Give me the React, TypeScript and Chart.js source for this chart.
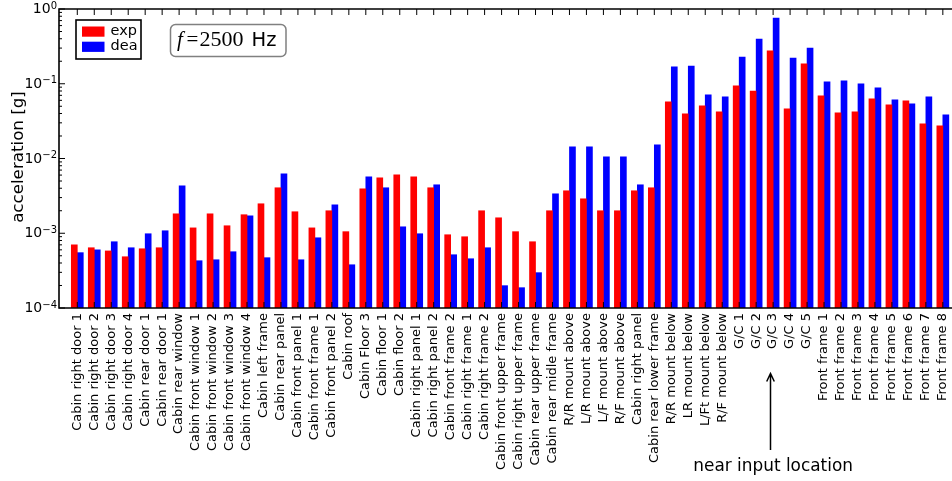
import { useEffect, useRef } from 'react';
import { Chart, registerables } from 'chart.js';

Chart.register(...registerables);

// Measurement locations on the cabin and frame
const locations = [
  'Cabin right door 1', 'Cabin right door 2', 'Cabin right door 3', 'Cabin right door 4',
  'Cabin rear door 1', 'Cabin rear door 1', 'Cabin rear window', 'Cabin front window 1',
  'Cabin front window 2', 'Cabin front window 3', 'Cabin front window 4', 'Cabin left frame',
  'Cabin rear panel', 'Cabin front panel 1', 'Cabin front frame 1', 'Cabin front panel 2',
  'Cabin roof', 'Cabin Floor 3', 'Cabin floor 1', 'Cabin floor 2',
  'Cabin right panel 1', 'Cabin right panel 2', 'Cabin front frame 2', 'Cabin right frame 1',
  'Cabin right frame 2', 'Cabin front upper frame', 'Cabin right upper frame', 'Cabin rear upper frame',
  'Cabin rear midle frame', 'R/R mount above', 'L/R mount above', 'L/F mount above',
  'R/F mount above', 'Cabin right panel', 'Cabin rear lower frame', 'R/R mount below',
  'LR mount below', 'L/Ft mount below', 'R/F mount below', 'G/C 1',
  'G/C 2', 'G/C 3', 'G/C 4', 'G/C 5',
  'Front frame 1', 'Front frame 2', 'Front frame 3', 'Front frame 4',
  'Front frame 5', 'Front frame 6', 'Front frame 7', 'Front frame 8',
];

// Measured acceleration [g]
const expValues = [
  7.0e-4, 6.4e-4, 5.8e-4, 4.85e-4,
  6.2e-4, 6.4e-4, 1.82e-3, 1.18e-3,
  1.82e-3, 1.26e-3, 1.77e-3, 2.48e-3,
  4.06e-3, 1.94e-3, 1.18e-3, 2.0e-3,
  1.05e-3, 3.93e-3, 5.52e-3, 6.05e-3,
  5.69e-3, 4.06e-3, 9.55e-4, 8.98e-4,
  2.0e-3, 1.61e-3, 1.05e-3, 7.7e-4,
  2.0e-3, 3.7e-3, 2.89e-3, 2.0e-3,
  2.0e-3, 3.7e-3, 4.06e-3, 5.72e-2,
  3.95e-2, 5.06e-2, 4.2e-2, 9.35e-2,
  8.0e-2, 0.275, 4.61e-2, 0.184,
  6.88e-2, 4.08e-2, 4.2e-2, 6.27e-2,
  5.21e-2, 5.9e-2, 2.9e-2, 2.73e-2,
];

// Simulated acceleration [g]
const deaValues = [
  5.5e-4, 6.0e-4, 7.7e-4, 6.4e-4,
  9.85e-4, 1.08e-3, 4.31e-3, 4.29e-4,
  4.42e-4, 5.66e-4, 1.71e-3, 4.71e-4,
  6.24e-3, 4.42e-4, 8.7e-4, 2.4e-3,
  3.79e-4, 5.69e-3, 4.06e-3, 1.22e-3,
  9.85e-4, 4.45e-3, 5.16e-4, 4.56e-4,
  6.4e-4, 1.99e-4, 1.87e-4, 2.97e-4,
  3.37e-3, 1.43e-2, 1.43e-2, 1.05e-2,
  1.05e-2, 4.45e-3, 1.52e-2, 0.168,
  0.173, 7.1e-2, 6.67e-2, 0.228,
  0.397, 0.758, 0.221, 0.301,
  0.106, 0.109, 9.95e-2, 8.8e-2,
  6.08e-2, 5.37e-2, 6.67e-2, 3.83e-2,
];

// Decade exponents shown on the log axis
const yExponents = [0, -1, -2, -3, -4];

const seriesNames = ['exp', 'dea'];
const seriesColors = ['#ff0000', '#0000ff'];
const frequencyHz = '2500';
const yTitle = 'acceleration [g]';
const arrowNote = 'near input location';
const arrowTarget = 'G/C 3';

const SANS = '"DejaVu Sans", sans-serif';
const SERIF = '"Liberation Serif", "DejaVu Serif", serif';

const decorPlugin = {
  id: 'decor',
  afterDatasetsDraw(chart: any) {
    const { ctx, chartArea: a, scales } = chart;
    const xs = scales.x;
    const ys = scales.y;
    ctx.save();

    // inward tick marks
    ctx.strokeStyle = '#000';
    ctx.lineWidth = 1;
    ctx.beginPath();
    locations.forEach((_, i) => {
      const px = xs.getPixelForValue(i);
      ctx.moveTo(px, a.top);
      ctx.lineTo(px, a.top + 6);
      ctx.moveTo(px, a.bottom);
      ctx.lineTo(px, a.bottom - 6);
    });
    yExponents.forEach((e) => {
      const py = ys.getPixelForValue(Math.pow(10, e));
      ctx.moveTo(a.left, py);
      ctx.lineTo(a.left + 6, py);
      if (e > yExponents[yExponents.length - 1]) {
        for (let m = 2; m <= 9; m++) {
          const pm = ys.getPixelForValue(m * Math.pow(10, e - 1));
          ctx.moveTo(a.left, pm);
          ctx.lineTo(a.left + 3, pm);
        }
      }
    });
    ctx.stroke();

    // axes frame
    ctx.lineWidth = 1.6;
    ctx.beginPath();
    ctx.moveTo(a.right + 2, a.top);
    ctx.lineTo(a.left, a.top);
    ctx.lineTo(a.left, a.bottom);
    ctx.lineTo(a.right + 2, a.bottom);
    ctx.stroke();

    // y tick labels: 10 with superscript exponent
    ctx.fillStyle = '#000';
    yExponents.forEach((e) => {
      const py = ys.getPixelForValue(Math.pow(10, e));
      const expText = e < 0 ? '\u2212' + String(-e) : String(e);
      ctx.font = '10px ' + SANS;
      ctx.textAlign = 'right';
      ctx.textBaseline = 'alphabetic';
      const right = a.left - 2;
      ctx.fillText(expText, right, py - 0.5);
      const ew = ctx.measureText(expText).width;
      ctx.font = '14px ' + SANS;
      ctx.textBaseline = 'middle';
      ctx.fillText('10', right - ew, py + 0.5);
    });

    // y axis title
    ctx.save();
    ctx.translate(19, 157);
    ctx.rotate(-Math.PI / 2);
    ctx.font = '16.7px ' + SANS;
    ctx.textAlign = 'center';
    ctx.textBaseline = 'middle';
    ctx.fillText(yTitle, 0, 0);
    ctx.restore();

    // legend
    const lx = a.left + 17;
    const ly = a.top + 11;
    ctx.fillStyle = '#fff';
    ctx.fillRect(lx, ly, 65, 39);
    ctx.lineWidth = 1.6;
    ctx.strokeStyle = '#000';
    ctx.strokeRect(lx, ly, 65, 39);
    ctx.font = '14.5px ' + SANS;
    ctx.textAlign = 'left';
    ctx.textBaseline = 'middle';
    seriesNames.forEach((name, k) => {
      const ry = ly + 6.5 + k * 15.2;
      ctx.fillStyle = seriesColors[k];
      ctx.fillRect(lx + 6, ry, 22.5, 10.2);
      ctx.fillStyle = '#000';
      ctx.fillText(name, lx + 34.5, ry + 5);
    });

    // frequency box
    const bx = 170.5;
    const by = 24.5;
    ctx.beginPath();
    ctx.roundRect(bx, by, 115.5, 32, 5);
    ctx.fillStyle = '#fff';
    ctx.fill();
    ctx.lineWidth = 1.5;
    ctx.strokeStyle = '#808080';
    ctx.stroke();
    ctx.fillStyle = '#000';
    ctx.textBaseline = 'alphabetic';
    ctx.textAlign = 'left';
    const base = 45.7;
    ctx.font = 'italic 21px ' + SERIF;
    ctx.fillText('f', 177, base);
    ctx.font = '21px ' + SERIF;
    ctx.fillText('=', 186.5, base);
    ctx.font = '22px ' + SERIF;
    ctx.fillText(frequencyHz, 199.5, base);
    ctx.font = '19.5px ' + SANS;
    ctx.fillText('Hz', 251.5, base);

    // arrow pointing at the input location
    const ai = locations.indexOf(arrowTarget);
    const tickX = xs.getPixelForValue(ai);
    const ax = Math.round(tickX - 3) + 0.5;
    ctx.strokeStyle = '#000';
    ctx.lineWidth = 1.5;
    ctx.beginPath();
    ctx.moveTo(ax, 450);
    ctx.lineTo(ax, 374);
    ctx.moveTo(ax - 3.8, 381.5);
    ctx.lineTo(ax, 373.5);
    ctx.lineTo(ax + 3.8, 381.5);
    ctx.stroke();
    ctx.font = '16.9px ' + SANS;
    ctx.textAlign = 'center';
    ctx.fillText(arrowNote, tickX, 470.5);

    ctx.restore();
  },
};

export default function App() {
  const canvasRef = useRef<HTMLCanvasElement | null>(null);

  useEffect(() => {
    const canvas = canvasRef.current;
    if (!canvas) return;
    const chart = new Chart(canvas, {
      type: 'bar',
      data: {
        datasets: [expValues, deaValues].map((vals, k) => ({
          label: seriesNames[k],
          data: vals.map((v, i) => ({ x: i, y: v })),
          backgroundColor: seriesColors[k],
          borderWidth: 0,
          barThickness: 6,
        })),
      },
      options: {
        responsive: false,
        animation: false,
        events: [],
        layout: { padding: { top: 9, right: 0, left: 0, bottom: 0 } },
        plugins: {
          legend: { display: false },
          tooltip: { enabled: false },
        },
        scales: {
          x: {
            type: 'linear',
            offset: false,
            min: -1.078,
            max: 51.54,
            grid: { display: false, drawTicks: false },
            border: { display: false },
            afterBuildTicks: (scale: any) => {
              scale.ticks = locations.map((_, i) => ({ value: i }));
            },
            afterFit: (scale: any) => {
              scale.height = 173;
              scale.paddingLeft = 0;
              scale.paddingRight = 0;
            },
            ticks: {
              autoSkip: false,
              minRotation: 90,
              maxRotation: 90,
              padding: 5,
              color: '#000',
              font: { family: SANS, size: 13 },
              callback: (v: any) => locations[v as number] ?? '',
            },
          },
          y: {
            type: 'logarithmic',
            min: 1e-4,
            max: 1,
            grid: { display: false, drawTicks: false },
            border: { display: false },
            ticks: { display: false },
            afterFit: (scale: any) => {
              scale.width = 59;
              scale.paddingTop = 0;
              scale.paddingBottom = 0;
            },
          },
        },
      },
      plugins: [decorPlugin],
    });
    return () => chart.destroy();
  }, []);

  return (
    <div style={{ position: 'absolute', left: 0, top: 0, width: 952, height: 481, background: '#fff' }}>
      <canvas ref={canvasRef} width={952} height={481} style={{ display: 'block' }} />
    </div>
  );
}
